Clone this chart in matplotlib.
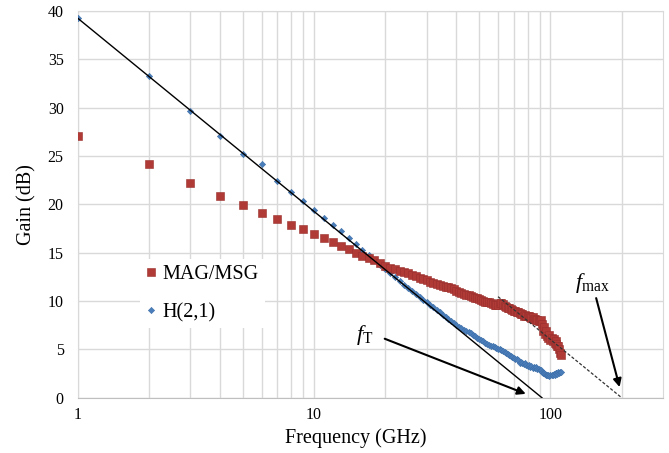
import matplotlib.pyplot as plt
from matplotlib.ticker import FixedLocator, NullFormatter, FixedFormatter

# frequency points (GHz), 1 GHz step
freq = list(range(1, 112))

mag_msg = [
    27.05, 24.15, 22.2, 20.9, 19.9, 19.15, 18.45, 17.9, 17.45, 16.9,
    16.5, 16.1, 15.7, 15.35, 15.0, 14.7, 14.45, 14.2, 13.9, 13.6,
    13.45, 13.3, 13.15, 13.0, 12.85, 12.7, 12.55, 12.4, 12.3, 12.15,
    12.0, 11.9, 11.8, 11.7, 11.6, 11.5, 11.4, 11.3, 11.2, 11.05,
    10.95, 10.85, 10.75, 10.65, 10.6, 10.5, 10.45, 10.35, 10.3, 10.2,
    10.1, 10.05, 9.95, 9.9, 9.85, 9.75, 9.7, 9.6, 9.55, 9.6,
    9.75, 9.8, 9.7, 9.5, 9.4, 9.3, 9.25, 9.2, 9.1, 9.0,
    8.95, 8.85, 8.9, 8.75, 8.7, 8.65, 8.5, 8.6, 8.45, 8.45,
    8.4, 8.35, 8.2, 8.3, 8.1, 8.15, 8.0, 8.05, 7.9, 7.95,
    8.0, 7.6, 6.9, 7.3, 6.6, 6.9, 6.4, 6.2, 6.5, 6.0,
    6.2, 5.9, 6.1, 5.7, 5.9, 5.6, 5.3, 5.4, 5.0, 4.6,
    4.4,
]

h21 = [
    39.25, 33.3, 29.65, 27.05, 25.15, 24.15, 22.45, 21.3, 20.3, 19.4,
    18.6, 17.9, 17.2, 16.5, 15.9, 15.3, 14.75, 14.25, 13.75, 13.3,
    12.85, 12.45, 12.05, 11.7, 11.35, 11.0, 10.7, 10.4, 10.1, 9.85,
    9.6, 9.35, 9.1, 8.85, 8.6, 8.35, 8.1, 7.9, 7.7, 7.5,
    7.35, 7.2, 7.05, 6.95, 6.8, 6.65, 6.5, 6.35, 6.2, 6.1,
    6.0, 5.85, 5.7, 5.6, 5.5, 5.4, 5.3, 5.2, 5.1, 5.05,
    5.0, 4.9, 4.8, 4.7, 4.6, 4.5, 4.4, 4.35, 4.25, 4.15,
    4.05, 4.0, 3.85, 3.6, 3.7, 3.55, 3.5, 3.6, 3.4, 3.3,
    3.35, 3.2, 3.3, 3.1, 3.15, 3.05, 3.2, 2.95, 3.0, 2.85,
    2.9, 2.7, 2.6, 2.55, 2.5, 2.4, 2.35, 2.3, 2.25, 2.3,
    2.35, 2.3, 2.5, 2.4, 2.55, 2.6, 2.5, 2.65, 2.6, 2.7,
    2.65,
]

# -20 dB/dec extrapolation lines
ft_line_f = [1, 92]
ft_line_gain = [39.25, 0]
fmax_line_f = [60, 200]
fmax_line_gain = [10.45, 0]

# annotation positions (frequency, gain)
ft_text = (16.4, 6.5)
ft_arrow = [(19.9, 6.1), (78.6, 0.4)]
fmax_text = (151, 11.9)
fmax_arrow = [(156, 10.3), (196, 1.1)]

x_major = [1, 10, 100]
x_minor = [2, 3, 4, 5, 6, 7, 8, 9, 20, 30, 40, 50, 60, 70, 80, 90, 200]
y_ticks = [0, 5, 10, 15, 20, 25, 30, 35, 40]

plt.rcParams["font.family"] = "Liberation Serif"
plt.rcParams["mathtext.fontset"] = "custom"
plt.rcParams["mathtext.rm"] = "Liberation Serif"
plt.rcParams["mathtext.it"] = "Liberation Serif:italic"

fig = plt.figure(figsize=(6.69, 4.53), dpi=100)
ax = fig.add_axes([0.116, 0.122, 0.8755, 0.854])

grid_col = "#d9d9d9"
ax.plot(freq, h21, linestyle="none", marker="D", markersize=3.2,
        color="#4a7ebb", markeredgecolor="#3d6fa8", markeredgewidth=0.4,
        label="H(2,1)", zorder=3)
ax.plot(freq, mag_msg, linestyle="none", marker="s", markersize=5.2,
        color="#b03a36", markeredgecolor="#9a2f2c", markeredgewidth=0.4,
        label="MAG/MSG", zorder=4)

ax.plot(ft_line_f, ft_line_gain, color="black", linewidth=1.0, zorder=5)
ax.plot(fmax_line_f, fmax_line_gain, color="#333333", linewidth=0.9,
        linestyle=(0, (2.5, 1.5)), zorder=5)

ax.set_xscale("log")
ax.set_xlim(1, 300)
ax.set_ylim(0, 40)

ax.xaxis.set_major_locator(FixedLocator(x_major))
ax.xaxis.set_major_formatter(FixedFormatter([str(v) for v in x_major]))
ax.xaxis.set_minor_locator(FixedLocator(x_minor))
ax.xaxis.set_minor_formatter(NullFormatter())
ax.set_yticks(y_ticks)

ax.grid(True, which="both", color=grid_col, linewidth=1.0)
ax.set_axisbelow(True)
ax.tick_params(which="both", length=0, labelsize=11.5)
ax.tick_params(axis="y", pad=10)
ax.tick_params(axis="x", pad=6.5)
for side in ["top", "right", "left"]:
    ax.spines[side].set_color(grid_col)
ax.spines["bottom"].set_color("#bfbfbf")

ax.set_xlabel("Frequency (GHz)", fontsize=14.5)
ax.set_ylabel("Gain (dB)", fontsize=14.5)
ax.xaxis.set_label_coords(0.475, -0.08)
ax.yaxis.set_label_coords(-0.07, 0.5)

arrow_props = dict(arrowstyle="-|>", color="black", linewidth=1.5,
                   mutation_scale=12, shrinkA=0, shrinkB=0)
ax.annotate("", xy=ft_arrow[1], xytext=ft_arrow[0], arrowprops=arrow_props,
            zorder=6)
ax.annotate("", xy=fmax_arrow[1], xytext=fmax_arrow[0], arrowprops=arrow_props,
            zorder=6)
ax.text(ft_text[0], ft_text[1], r"$f_{\mathrm{T}}$", fontsize=16,
        ha="center", va="center")
ax.text(fmax_text[0], fmax_text[1], r"$f_{\mathrm{max}}$", fontsize=16,
        ha="center", va="center")

handles, labels = ax.get_legend_handles_labels()
leg = ax.legend(handles[::-1], labels[::-1], loc="upper left",
                bbox_to_anchor=(0.09, 0.385), fontsize=14.5,
                frameon=True, fancybox=False, framealpha=1,
                facecolor="white", edgecolor="none",
                handlelength=0.5, handletextpad=0.3, labelspacing=0.95,
                borderpad=0.3, markerscale=1.0)
leg.set_zorder(7)

fig.savefig("out.png", dpi=100)
